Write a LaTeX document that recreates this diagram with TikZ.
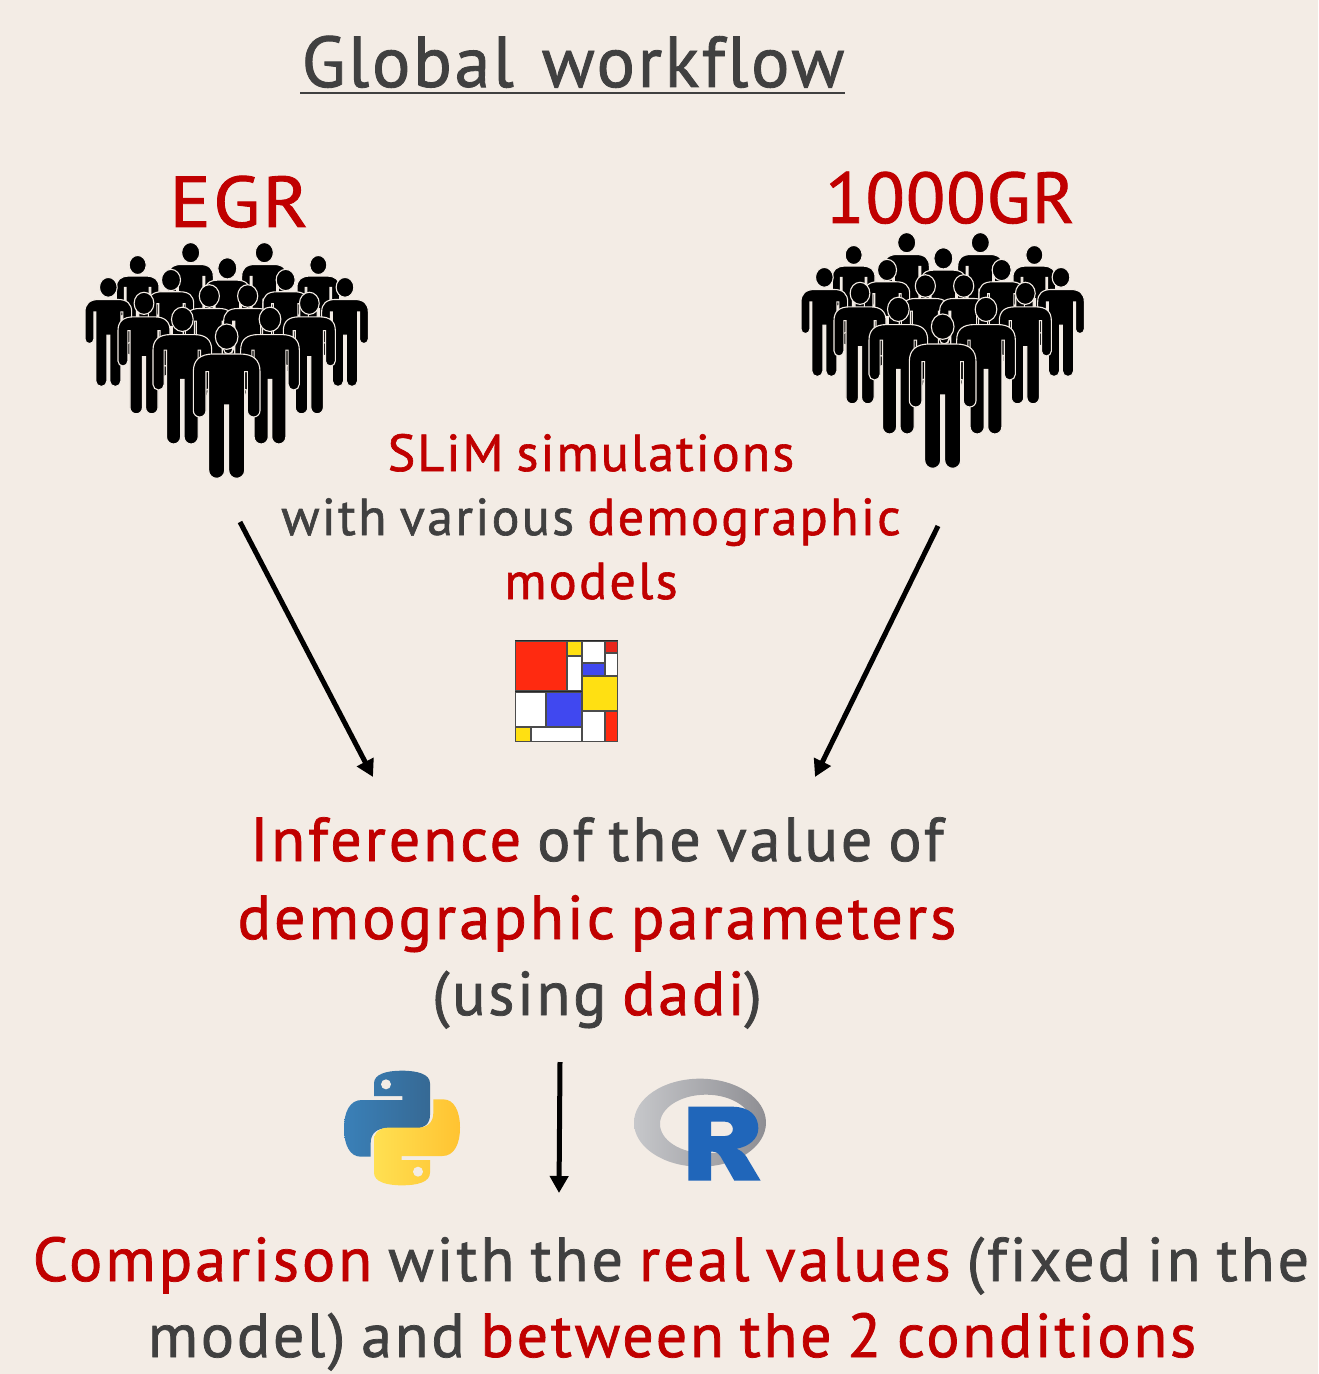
\documentclass[tikz,border=0pt]{standalone}
\usepackage{fontspec}
\setmainfont[Ligatures=CommonOff,WordSpace=0.82]{PT Sans}
\usetikzlibrary{arrows.meta}
\definecolor{bgc}{HTML}{F3ECE5}
\definecolor{redc}{HTML}{C00000}
\definecolor{grayc}{HTML}{404040}
\newcommand{\redt}[1]{\textcolor{redc}{#1}}
\newcommand{\fsz}[2]{\fontsize{#1}{#1}\selectfont\addfontfeature{LetterSpace=#2,FakeBold=1.2}}
\newcommand{\personfig}[4]{%
  \begin{scope}[shift={(#1,#2)},scale=#3]
    \fill[black,draw=bgc,line width=0.55pt] (-40,52) -- (40,52) .. controls (80,52) and (100,70) .. (100,105) -- (100,222)
      arc[start angle=0,end angle=180,x radius=19,y radius=19] -- (62,105) -- (54,105) -- (54,401)
      arc[start angle=0,end angle=180,x radius=24,y radius=24] -- (6,205) -- (-6,205) -- (-6,401)
      arc[start angle=0,end angle=180,x radius=24,y radius=24] -- (-54,105) -- (-62,105) -- (-62,222)
      arc[start angle=0,end angle=180,x radius=19,y radius=19] -- (-100,105) .. controls (-100,70) and (-80,52) .. (-40,52) -- cycle;
    \fill[black,draw=bgc,line width=0.55pt] (0,0) ellipse[x radius=#4,y radius=#4*1.12];
  \end{scope}}
\newcommand{\crowd}[2]{%
  \begin{scope}[shift={(#1,#2)},scale=1/3]
    \personfig{362}{68}{.68}{40}\personfig{583}{68}{.68}{40}
    \personfig{203}{105}{.64}{40}\personfig{745}{105}{.64}{40}
    \personfig{472}{115}{.68}{42}
    \personfig{303}{150}{.68}{42}\personfig{647}{150}{.68}{42}
    \personfig{115}{172}{.7}{38}\personfig{825}{172}{.7}{38}
    \personfig{418}{198}{.72}{42}\personfig{533}{198}{.72}{42}
    \personfig{222}{220}{.78}{38}\personfig{718}{220}{.78}{38}
    \personfig{337}{268}{.88}{37}\personfig{600}{268}{.88}{37}
    \personfig{470}{320}{1}{34}
  \end{scope}}
\tikzset{
  txt/.style={inner sep=0pt,outer sep=0pt,anchor=base,text=grayc},
  flow/.style={draw=black,line width=2.5pt,-{Triangle[length=8.5pt,width=9pt]},shorten >=0pt}
}
\begin{document}
\begin{tikzpicture}[x=0.5pt,y=-0.5pt]
\useasboundingbox (0,0) rectangle (1318,1374);
\fill[bgc] (0,0) rectangle (1318,1374);

% texts
\node[txt] (title) at (573,87) {\fsz{36}{3.6}Global\hspace{5pt} workflow};
\coordinate (ula) at (300,93);\coordinate (ulb) at (845,93);
\draw[grayc,line width=1.2pt] (ula) -- (ulb);
\node[txt] (egr) at (239,227) {\scalebox{1.07}[1]{\fsz{36}{3}\redt{EGR}}};
\node[txt] (kgr) at (950,223) {\fsz{36}{1.5}\redt{1000GR}};
\node[txt] (slim) at (591,471) {\fsz{26}{4}\redt{SLiM simulations}};
\node[txt] (with) at (591,535) {\fsz{26}{4.5}with various \redt{demographic}};
\node[txt] (models) at (591,599) {\fsz{26}{4.5}\redt{models}};
\node[txt] (inf) at (597,861) {\fsz{31}{4.8}\redt{Inference} of the value of};
\node[txt] (dem) at (597,939) {\fsz{31}{5.1}\redt{demographic parameters}};
\node[txt] (using) at (597,1015) {\fsz{31}{4.4}(using \redt{dadi})};
\node[txt] (comp) at (671,1281) {\fsz{31}{4.9}\redt{Comparison} with the \redt{real values} (fixed in the};
\node[txt] (model) at (672,1357) {\fsz{31}{4.4}model) and \redt{between the 2 conditions}};

% crowds
\crowd{70}{230}
\crowd{786}{220}

% Mondrian
\begin{scope}[shift={(500,630)},scale=1/3]
  \definecolor{mr}{HTML}{FF2A10}\definecolor{mr2}{HTML}{E8261C}\definecolor{my}{HTML}{FFE012}\definecolor{mb}{HTML}{4048F0}
  \fill[black!85] (44,29) rectangle (354,336);
  \foreach \xa/\ya/\xb/\yb/\c in {
    47/33/198/182/mr, 201/33/244/75/my, 201/78/244/182/white,
    247/33/314/97/white, 316/33/352/67/mr2, 316/71/352/136/white,
    247/100/314/136/mb, 247/139/352/242/my, 47/186/135/288/white,
    139/186/244/288/mb, 247/245/314/334/white, 316/245/352/334/mr,
    47/292/90/334/my, 93/292/244/334/white}{
    \fill[\c,draw=black!70,line width=0.45pt] (\xa,\ya) rectangle (\xb,\yb);
  }
\end{scope}

% Python logo
\begin{scope}[shift={(330,1050)},scale=1/3]
  \definecolor{pb1}{HTML}{3A80B8}\definecolor{pb2}{HTML}{366994}
  \definecolor{py1}{HTML}{FFE052}\definecolor{py2}{HTML}{FFC331}
  \path[shade,shading angle=135,left color=pb1,right color=pb2]
    (132,138) -- (132,100) .. controls (132,72) and (170,62) .. (215,62)
    .. controls (262,62) and (300,72) .. (300,100) -- (300,195)
    .. controls (300,222) and (282,235) .. (258,235) -- (170,235)
    .. controls (140,235) and (122,250) .. (122,280) -- (122,320) -- (92,320)
    .. controls (60,320) and (42,285) .. (42,235) .. controls (42,185) and (60,150) .. (95,150)
    -- (217,150) -- (217,138) -- cycle;
  \fill[bgc] (168,103) circle[radius=15];
  \path[shade,shading angle=135,left color=py1,right color=py2]
    (300,330) -- (300,368) .. controls (300,396) and (262,406) .. (217,406)
    .. controls (170,406) and (132,396) .. (132,368) -- (132,273)
    .. controls (132,246) and (150,233) .. (174,233) -- (262,233)
    .. controls (292,233) and (310,218) .. (310,188) -- (310,148) -- (340,148)
    .. controls (372,148) and (390,183) .. (390,233) .. controls (390,283) and (372,318) .. (337,318)
    -- (215,318) -- (215,330) -- cycle;
  \fill[bgc] (264,365) circle[radius=15];
\end{scope}

% R logo
\begin{scope}[shift={(330,1050)},scale=1/3]
  \definecolor{rg1}{HTML}{C6C7CA}\definecolor{rg2}{HTML}{8E8E93}
  \definecolor{rb}{HTML}{2066BA}
  \path[shade,shading angle=125,left color=rg1,right color=rg2,even odd rule]
    (1110,218) ellipse[x radius=198,y radius=132]
    (1128,222) ellipse[x radius=138,y radius=88];
  \path[fill=rb,even odd rule]
    (1075,170) -- (1205,170) .. controls (1262,170) and (1285,200) .. (1285,235)
    .. controls (1285,268) and (1255,290) .. (1220,296)
    .. controls (1240,304) and (1250,320) .. (1255,330) -- (1292,392) -- (1213,392) -- (1172,320)
    .. controls (1162,305) and (1155,305) .. (1143,305) -- (1143,392) -- (1075,392) -- cycle
    (1143,215) -- (1185,215) .. controls (1215,215) and (1218,258) .. (1185,258) -- (1143,258) -- cycle;
\end{scope}

% arrows
\coordinate (a1s) at (240,522);\coordinate (a1e) at (373,777);
\coordinate (a2s) at (938,526);\coordinate (a2e) at (815,777);
\coordinate (a3s) at (560,1062);\coordinate (a3e) at (559,1193);
\draw[flow] (a1s) -- (a1e);
\draw[flow] (a2s) -- (a2e);
\draw[flow] (a3s) -- (a3e);
\end{tikzpicture}
\end{document}
